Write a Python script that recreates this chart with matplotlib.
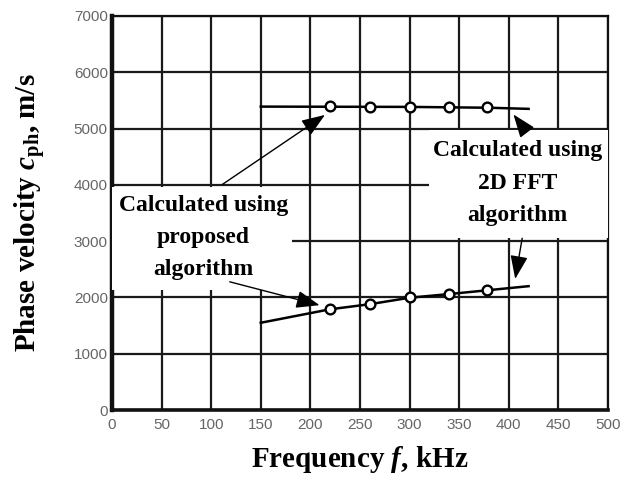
import matplotlib
matplotlib.use("Agg")
import matplotlib.pyplot as plt
from matplotlib.patches import Rectangle

# data
freq_pts = [220, 260, 300, 340, 378]
upper_pts = [5400, 5390, 5390, 5385, 5380]
lower_pts = [1800, 1890, 2000, 2060, 2130]

fft_upper_f = [150, 300, 380, 420]
fft_upper_v = [5390, 5385, 5370, 5350]
fft_lower_f = [150, 220, 260, 300, 340, 380, 420]
fft_lower_v = [1550, 1790, 1880, 1995, 2060, 2130, 2200]

xticks = list(range(0, 501, 50))
yticks = list(range(0, 7001, 1000))

plt.rcParams['mathtext.fontset'] = 'custom'
plt.rcParams['mathtext.rm'] = 'Liberation Serif:bold'
plt.rcParams['mathtext.it'] = 'Liberation Serif:italic:bold'
plt.rcParams['mathtext.bf'] = 'Liberation Serif:bold'

fig = plt.figure(figsize=(6.2, 4.8), dpi=100)
ax = fig.add_axes([0.1806, 0.1458, 0.8, 0.8209])
ax.set_xlim(0, 500)
ax.set_ylim(0, 7000)
ax.set_xticks(xticks)
ax.set_yticks(yticks)
ax.tick_params(length=0, labelsize=11, labelcolor='#666666')
ax.tick_params(axis='x', pad=6)
ax.tick_params(axis='y', pad=3)
for lab in ax.get_xticklabels() + ax.get_yticklabels():
    lab.set_family('Liberation Sans')

# grid
for x in xticks:
    ax.axvline(x, color='#1a1a1a', lw=1.6, zorder=1)
for y in yticks:
    ax.axhline(y, color='#1a1a1a', lw=1.6, zorder=1)

for side, w in [('left', 3.2), ('bottom', 2.6), ('top', 1.6), ('right', 1.6)]:
    ax.spines[side].set_linewidth(w)
    ax.spines[side].set_color('#111111')
    ax.spines[side].set_zorder(2)

# white boxes behind the labels
ax.add_patch(Rectangle((0, 2130), 181, 1840, facecolor='white', edgecolor='none', zorder=3))
ax.add_patch(Rectangle((320, 3050), 180, 1930, facecolor='white', edgecolor='none', zorder=3))

# 2D FFT curves
ax.plot(fft_upper_f, fft_upper_v, color='black', lw=1.8, zorder=4)
ax.plot(fft_lower_f, fft_lower_v, color='black', lw=1.8, zorder=4)

# proposed algorithm points
ax.plot(freq_pts, upper_pts, 'o', ms=7, mfc='white', mec='black', mew=1.7, zorder=5)
ax.plot(freq_pts, lower_pts, 'o', ms=7, mfc='white', mec='black', mew=1.7, zorder=5)

txt_kw = dict(ha='center', va='center', fontsize=17, fontweight='bold',
              family='Liberation Serif', linespacing=1.7, zorder=6)
ax.text(92, 3070, 'Calculated using\nproposed\nalgorithm', **txt_kw)
ax.text(409, 4030, 'Calculated using\n2D FFT\nalgorithm', **txt_kw)

arr = dict(arrowstyle='-|>,head_length=0.8,head_width=0.3', color='black',
           lw=1.0, mutation_scale=18)
ax.annotate('', xy=(217, 5270), xytext=(109, 3980), arrowprops=arr, zorder=6)
ax.annotate('', xy=(212, 1850), xytext=(116, 2290), arrowprops=arr, zorder=6)
ax.annotate('', xy=(403, 5290), xytext=(419, 4920), arrowprops=arr, zorder=6)
ax.annotate('', xy=(406, 2280), xytext=(414, 3100), arrowprops=arr, zorder=6)

ax.set_xlabel('Frequency $\\it{f}$, kHz', fontsize=21, fontweight='bold',
              family='Liberation Serif')
ax.set_ylabel('Phase velocity $\\it{c}_{\\rm{ph}}$, m/s', fontsize=21,
              fontweight='bold', family='Liberation Serif')
ax.xaxis.set_label_coords(0.5, -0.085)
ax.yaxis.set_label_coords(-0.128, 0.5)

fig.savefig('out.png', dpi=100)
plt.close(fig)
